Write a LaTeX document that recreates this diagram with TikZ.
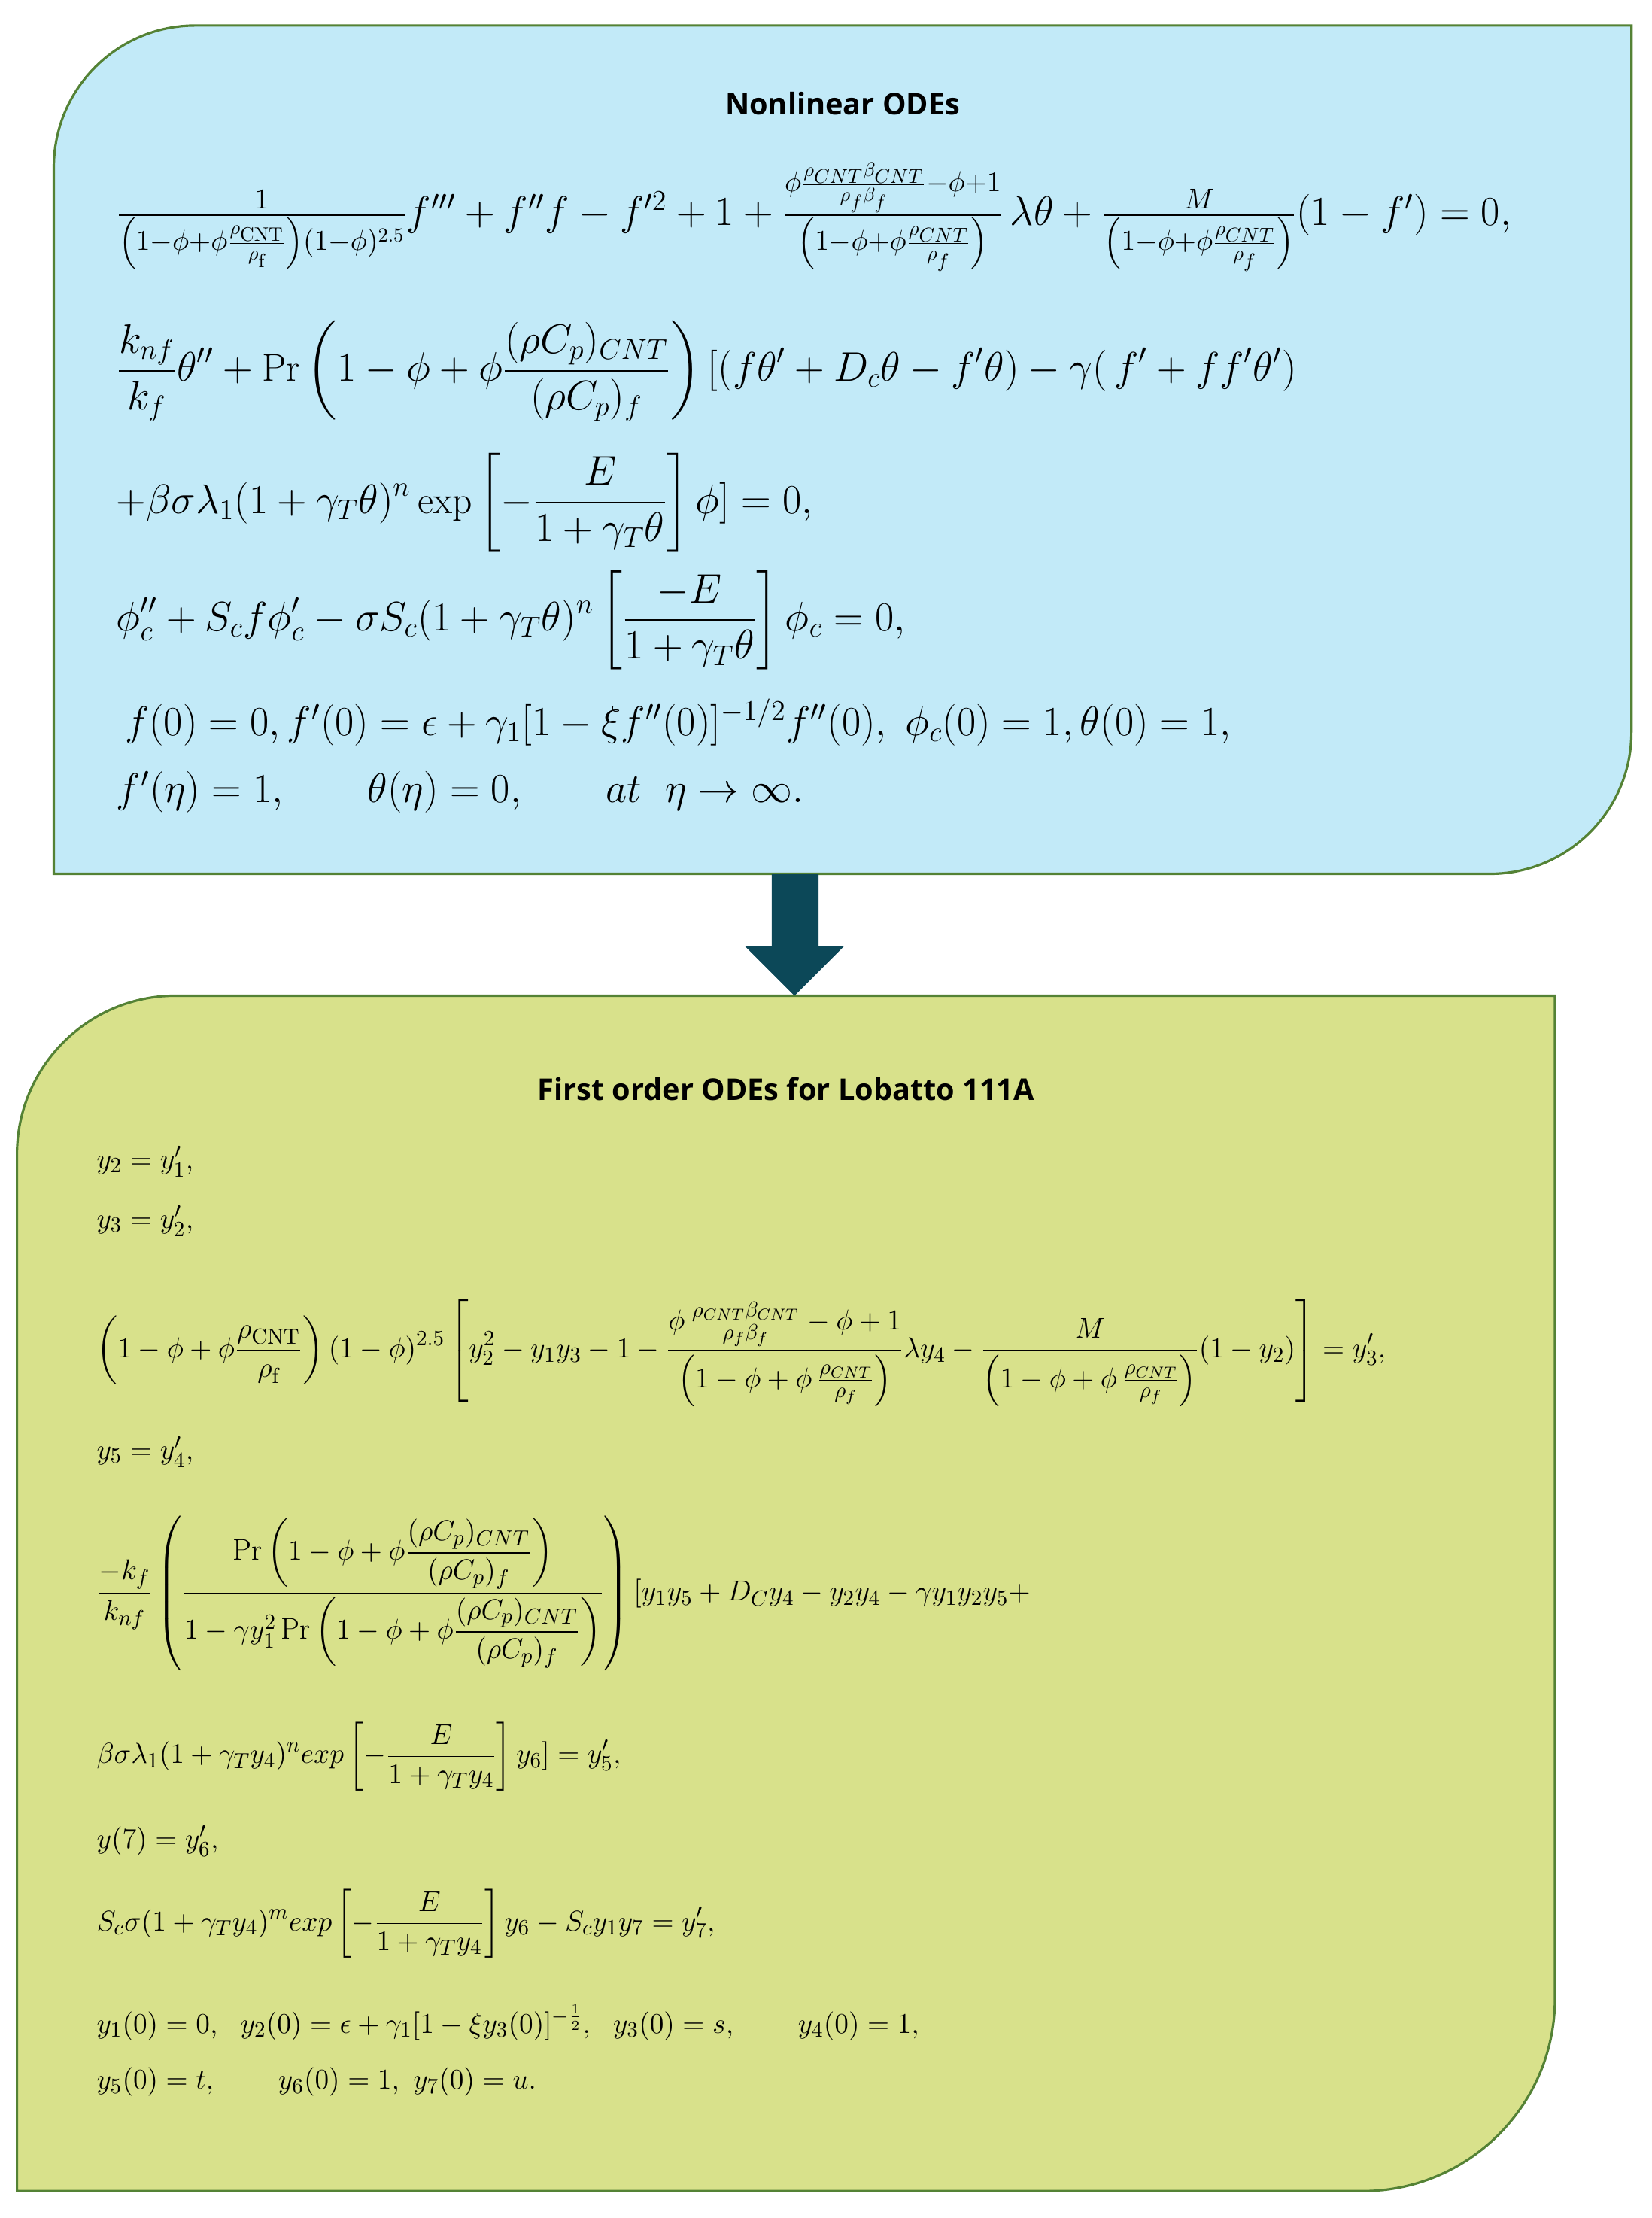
\documentclass[tikz,border=0pt]{standalone}
\usepackage{amsmath}
\usepackage{fontspec}
\newfontfamily\titlefont{Open Sans}
\definecolor{boxblue}{RGB}{194,234,248}
\definecolor{boxgreen}{RGB}{216,225,139}
\definecolor{edgegreen}{RGB}{84,130,53}
\definecolor{arrowteal}{RGB}{12,72,88}
\begin{document}
\begin{tikzpicture}[x=0.025cm,y=-0.025cm,
  eq/.style={anchor=west,inner sep=0pt,font=\fontsize{15}{18}\selectfont},
  eqtop/.style={anchor=west,inner sep=0pt,font=\fontsize{19.5}{22}\selectfont},
  ttl/.style={font=\titlefont\bfseries\fontsize{15}{18}\selectfont,inner sep=0pt},
  boxline/.style={draw=edgegreen,line width=1.2pt}]
\useasboundingbox (0,0) rectangle (1166,1566);
% top box
\draw[boxline,fill=boxblue] (38,300) [rounded corners=2.5cm] -- (38,18) -- (600,18) [sharp corners] -- (1152,18) -- (1152,300) [rounded corners=2.5cm] -- (1152,617) -- (600,617) [sharp corners] -- (38,617) -- cycle;
% bottom box
\draw[boxline,fill=boxgreen] (12,1100) [rounded corners=2.8cm] -- (12,703) -- (600,703) [sharp corners] -- (1098,703) -- (1098,1100) [rounded corners=3.4cm] -- (1098,1547) -- (600,1547) [sharp corners] -- (12,1547) -- cycle;
% arrow
\fill[arrowteal] (545,617) -- (578,617) -- (578,668) -- (596,668) -- (561,703) -- (526,668) -- (545,668) -- cycle;
\node[ttl] (t1) at (595,73) {Nonlinear ODEs};
\node[eqtop] (e1) at (82,153) {$\frac{1}{\left(1-\phi+\phi\frac{\rho_{\mathrm{CNT}}}{\rho_{\mathrm{f}}}\right)(1-\phi)^{2.5}}f'''+f''f-f'^2+1+\frac{\phi\frac{\rho_{CNT}\beta_{CNT}}{\rho_f\beta_f}-\phi+1}{\left(1-\phi+\phi\frac{\rho_{CNT}}{\rho_f}\right)}\,\lambda\theta+\frac{M}{\left(1-\phi+\phi\frac{\rho_{CNT}}{\rho_f}\right)}(1-f')=0,$};
\node[eqtop] (e2) at (82,262) {$\displaystyle\frac{k_{nf}}{k_f}\theta''+\Pr\left(1-\phi+\phi\frac{(\rho C_p)_{CNT}}{(\rho C_p)_f}\right)[(f\theta'+D_c\theta-f'\theta)-\gamma(\,f'+ff'\theta')$};
\node[eqtop] (e3) at (82,355) {$\displaystyle+\beta\sigma\lambda_1(1+\gamma_T\theta)^n\exp\left[-\frac{E}{1+\gamma_T\theta}\right]\phi]=0,$};
\node[eqtop] (e4) at (82,438) {$\displaystyle\phi_c''+S_cf\phi_c'-\sigma S_c(1+\gamma_T\theta)^n\left[\frac{-E}{1+\gamma_T\theta}\right]\phi_c=0,$};
\node[eqtop] (e5) at (88,510) {$f(0)=0,f'(0)=\epsilon+\gamma_1[1-\xi f''(0)]^{-1/2}f''(0),\ \phi_c(0)=1,\theta(0)=1,$};
\node[eqtop] (e6) at (82,559) {$f'(\eta)=1,\qquad\theta(\eta)=0,\qquad at\ \ \eta\to\infty.$};
\node[ttl] (t2) at (555,769) {First order ODEs for Lobatto 111A};
\node[eq] (b1) at (68,820) {$y_2=y_1',$};
\node[eq] (b2) at (68,862) {$y_3=y_2',$};
\node[eq,font=\fontsize{15.6}{19}\selectfont] (b3) at (68,955) {$\displaystyle\left(1-\mathrm{\phi}+\mathrm{\phi}\frac{\mathrm{\rho_{CNT}}}{\mathrm{\rho_f}}\right)(1-\phi)^{2.5}\left[y_2^2-y_1y_3-1-\frac{\phi\,\frac{\rho_{CNT}\beta_{CNT}}{\rho_f\beta_f}-\phi+1}{\left(1-\phi+\phi\,\frac{\rho_{CNT}}{\rho_f}\right)}\lambda y_4-\frac{M}{\left(1-\phi+\phi\,\frac{\rho_{CNT}}{\rho_f}\right)}(1-y_2)\right]=y_3',$};
\node[eq] (b4) at (68,1025) {$y_5=y_4',$};
\node[eq] (b5) at (68,1125) {$\displaystyle\frac{-k_f}{k_{nf}}\left(\frac{\Pr\left(1-\phi+\phi\dfrac{(\rho C_p)_{CNT}}{(\rho C_p)_f}\right)}{1-\gamma y_1^2\Pr\left(1-\phi+\phi\dfrac{(\rho C_p)_{CNT}}{(\rho C_p)_f}\right)}\right)[y_1y_5+D_Cy_4-y_2y_4-\gamma y_1y_2y_5+$};
\node[eq] (b6) at (68,1240) {$\displaystyle\beta\sigma\lambda_1(1+\gamma_Ty_4)^n exp\left[-\frac{E}{1+\gamma_Ty_4}\right]y_6]=y_5',$};
\node[eq] (b7) at (68,1300) {$y(7)=y_6',$};
\node[eq] (b8) at (68,1358) {$\displaystyle S_c\sigma(1+\gamma_Ty_4)^m exp\left[-\frac{E}{1+\gamma_Ty_4}\right]y_6-S_cy_1y_7=y_7',$};
\node[eq] (b9) at (68,1428) {$y_1(0)=0,\ \ y_2(0)=\epsilon+\gamma_1[1-\xi y_3(0)]^{-\frac{1}{2}},\ \ y_3(0)=s,\qquad y_4(0)=1,$};
\node[eq] (b10) at (68,1470) {$y_5(0)=t,\qquad y_6(0)=1,\ y_7(0)=u.$};
\end{tikzpicture}
\end{document}
